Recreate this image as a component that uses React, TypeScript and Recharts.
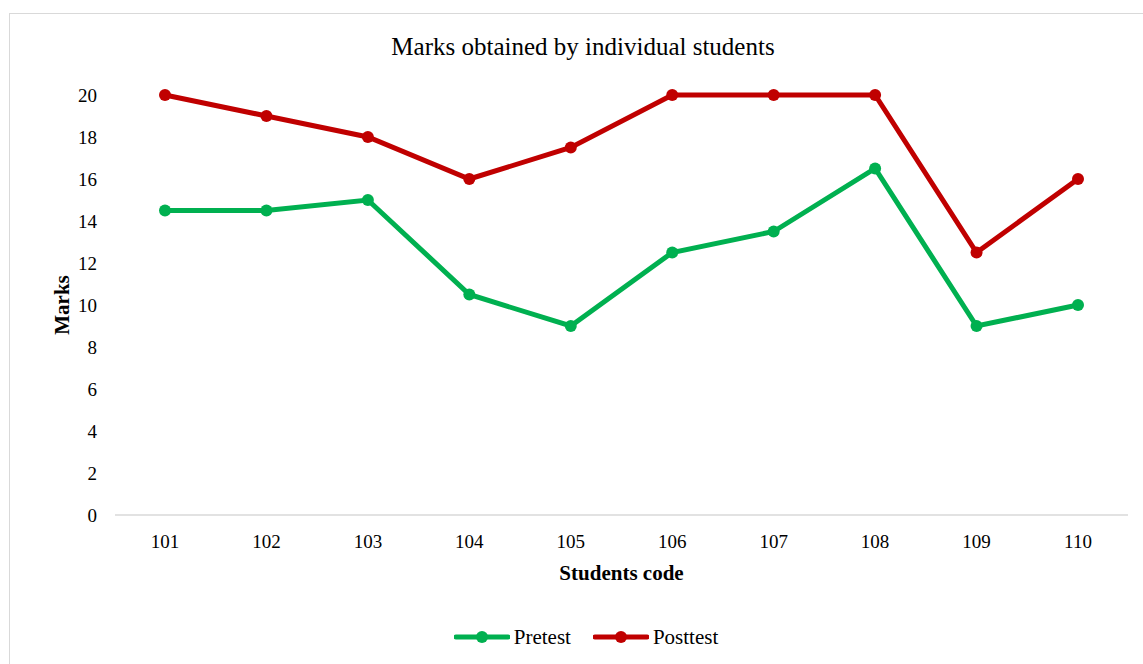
import React from "react";
import { LineChart, Line, XAxis, YAxis, Legend } from "recharts";

const students = ["101", "102", "103", "104", "105", "106", "107", "108", "109", "110"];
const pretest = [14.5, 14.5, 15, 10.5, 9, 12.5, 13.5, 16.5, 9, 10];
const posttest = [20, 19, 18, 16, 17.5, 20, 20, 20, 12.5, 16];
const yTicks = [0, 2, 4, 6, 8, 10, 12, 14, 16, 18, 20];

const GREEN = "#00b050";
const RED = "#c00000";
const FONT = '"Liberation Serif", "Times New Roman", serif';

const data = students.map((code, i) => ({
  code,
  pretest: pretest[i],
  posttest: posttest[i],
}));

const legendItems = [
  { name: "Pretest", color: GREEN },
  { name: "Posttest", color: RED },
];

function LegendContent() {
  return (
    <div
      style={{
        display: "flex",
        justifyContent: "center",
        alignItems: "center",
        height: 30,
        paddingLeft: 29,
        fontFamily: FONT,
        fontSize: 21,
        color: "#000",
      }}
    >
      {legendItems.map((it, i) => (
        <div key={it.name} style={{ display: "flex", alignItems: "center", marginLeft: i ? 22 : 0 }}>
          <svg width={56} height={14} style={{ marginRight: 4 }}>
            <line x1={2} y1={7} x2={54} y2={7} stroke={it.color} strokeWidth={5} strokeLinecap="round" />
            <circle cx={28} cy={7} r={6} fill={it.color} />
          </svg>
          <span>{it.name}</span>
        </div>
      ))}
    </div>
  );
}

export default function App() {
  return (
    <div style={{ position: "absolute", left: 0, top: 0, width: 1143, height: 664, overflow: "hidden", background: "#fff" }}>
      <div
        style={{
          position: "absolute",
          left: 9,
          top: 13,
          width: 1200,
          height: 700,
          borderTop: "1.5px solid #d9d9d9",
          borderLeft: "1.5px solid #d9d9d9",
        }}
      />
      <div
        style={{
          position: "absolute",
          left: 583,
          top: 34,
          transform: "translateX(-50%)",
          whiteSpace: "nowrap",
          fontFamily: FONT,
          fontSize: 25,
          lineHeight: 1,
          color: "#000",
        }}
      >
        Marks obtained by individual students
      </div>
      <LineChart
        width={1143}
        height={664}
        data={data}
        margin={{ top: 95, right: 15, left: 55, bottom: 54 }}
        style={{ position: "absolute", left: 0, top: 0 }}
      >
        <XAxis
          dataKey="code"
          padding={{ left: 50, right: 50 }}
          axisLine={{ stroke: "#d9d9d9", strokeWidth: 1.5 }}
          tickLine={false}
          tickSize={0}
          tickMargin={20}
          height={65}
          tick={{ fontFamily: FONT, fontSize: 19, fill: "#000" }}
          label={{
            content: ({ viewBox }: any) => (
              <text
                x={viewBox.x + viewBox.width / 2}
                y={viewBox.y + 58}
                textAnchor="middle"
                dominantBaseline="central"
                fontFamily={FONT}
                fontSize={21}
                fontWeight="bold"
                fill="#000"
              >
                Students code
              </text>
            ),
          }}
        />
        <YAxis
          domain={[0, 20]}
          ticks={yTicks}
          width={60}
          axisLine={false}
          tickLine={false}
          tickSize={0}
          tickMargin={18}
          tick={{ fontFamily: FONT, fontSize: 19, fill: "#000" }}
          label={{
            content: ({ viewBox }: any) => {
              const cx = viewBox.x + 7;
              const cy = viewBox.y + viewBox.height / 2;
              return (
                <text
                  x={cx}
                  y={cy}
                  transform={`rotate(-90, ${cx}, ${cy})`}
                  textAnchor="middle"
                  dominantBaseline="central"
                  fontFamily={FONT}
                  fontSize={21}
                  fontWeight="bold"
                  fill="#000"
                >
                  Marks
                </text>
              );
            },
          }}
        />
        <Legend
          verticalAlign="bottom"
          content={() => <LegendContent />}
          wrapperStyle={{ position: "absolute", top: 622, bottom: "auto", left: 0, width: 1143 }}
        />
        <Line
          type="linear"
          dataKey="pretest"
          name="Pretest"
          stroke={GREEN}
          strokeWidth={5}
          dot={{ r: 6, fill: GREEN, stroke: GREEN, strokeWidth: 0 }}
          activeDot={false}
          isAnimationActive={false}
        />
        <Line
          type="linear"
          dataKey="posttest"
          name="Posttest"
          stroke={RED}
          strokeWidth={5}
          dot={{ r: 6, fill: RED, stroke: RED, strokeWidth: 0 }}
          activeDot={false}
          isAnimationActive={false}
        />
      </LineChart>
    </div>
  );
}
